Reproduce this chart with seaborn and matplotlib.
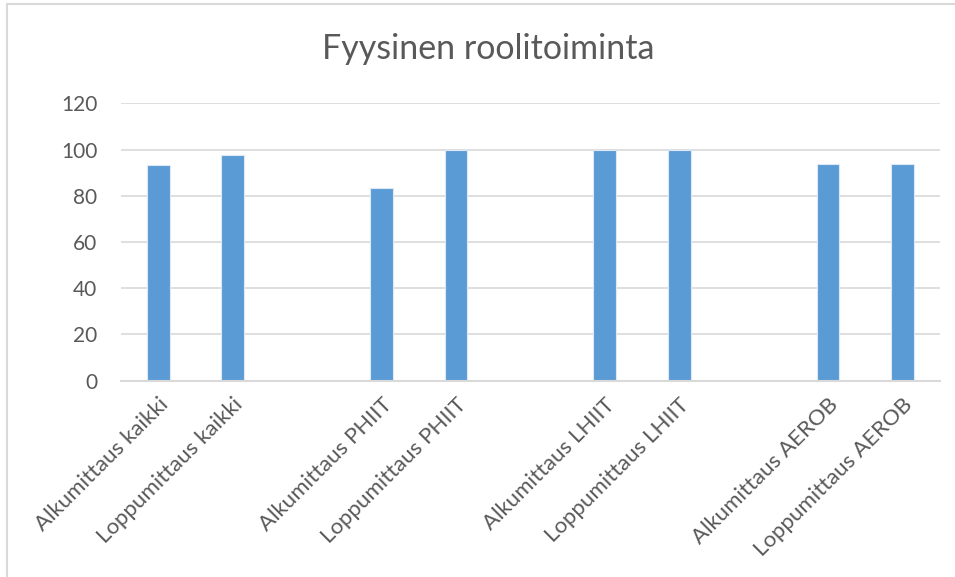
import matplotlib
matplotlib.use("Agg")
import matplotlib.pyplot as plt
import seaborn as sns
import pandas as pd
from matplotlib.lines import Line2D

# Measurement labels and their scores
categories = [
    "Alkumittaus kaikki", "Loppumittaus kaikki",
    "Alkumittaus PHIIT", "Loppumittaus PHIIT",
    "Alkumittaus LHIIT", "Loppumittaus LHIIT",
    "Alkumittaus AEROB", "Loppumittaus AEROB",
]
values = [93.2, 97.8, 83.3, 100.0, 100.0, 100.0, 93.75, 93.75]

# Slot order on the x axis, with empty spacer slots between the groups
slot_order = [
    "Alkumittaus kaikki", "Loppumittaus kaikki", " ",
    "Alkumittaus PHIIT", "Loppumittaus PHIIT", "  ",
    "Alkumittaus LHIIT", "Loppumittaus LHIIT", "   ",
    "Alkumittaus AEROB", "Loppumittaus AEROB",
]
y_ticks = [0, 20, 40, 60, 80, 100, 120]

df = pd.DataFrame({"mittaus": categories, "arvo": values})

sns.set_theme(style="white")
plt.rcParams["font.family"] = ["Lato", "DejaVu Sans"]

text_color = "#595959"
grid_color = "#D9D9D9"
bar_color = "#5B9BD5"

fig = plt.figure(figsize=(9.55, 5.77), dpi=100)
ax = fig.add_axes([0.1267, 0.3402, 0.984 - 0.1267, 0.821 - 0.3402])

sns.barplot(
    data=df, x="mittaus", y="arvo", order=slot_order,
    color=bar_color, saturation=1, width=0.305,
    edgecolor="#DCE8F5", linewidth=0.8, ax=ax,
)

ax.set_ylim(0, 120)
ax.set_xlim(-0.5, len(slot_order) - 0.5)
ax.set_yticks(y_ticks)
ax.set_yticklabels([str(t) for t in y_ticks], fontsize=15, color=text_color)
ax.yaxis.grid(True, color=grid_color, linewidth=1.2)
ax.set_axisbelow(True)

ax.set_xticks(range(len(slot_order)))
ax.set_xticklabels(slot_order, rotation=45, ha="right", rotation_mode="anchor",
                   fontsize=16, color=text_color)
ax.tick_params(axis="both", length=0)
ax.tick_params(axis="x", pad=10)
ax.tick_params(axis="y", pad=17)

ax.set_xlabel("")
ax.set_ylabel("")
for side in ["top", "right", "left"]:
    ax.spines[side].set_visible(False)
ax.spines["bottom"].set_color(grid_color)
ax.spines["bottom"].set_linewidth(1.5)

fig.text(0.511, 0.915, "Fyysinen roolitoiminta", ha="center", va="center",
         fontsize=24.5, color=text_color)

# Frame lines along the top and left of the chart area
frame_kw = dict(transform=fig.transFigure, color="#D9D9D9", linewidth=1.5)
fig.lines.append(Line2D([0.0078, 1.0], [0.9935, 0.9935], **frame_kw))
fig.lines.append(Line2D([0.0078, 0.0078], [0.0, 0.9935], **frame_kw))

fig.savefig("out.png", dpi=100, facecolor="white")
